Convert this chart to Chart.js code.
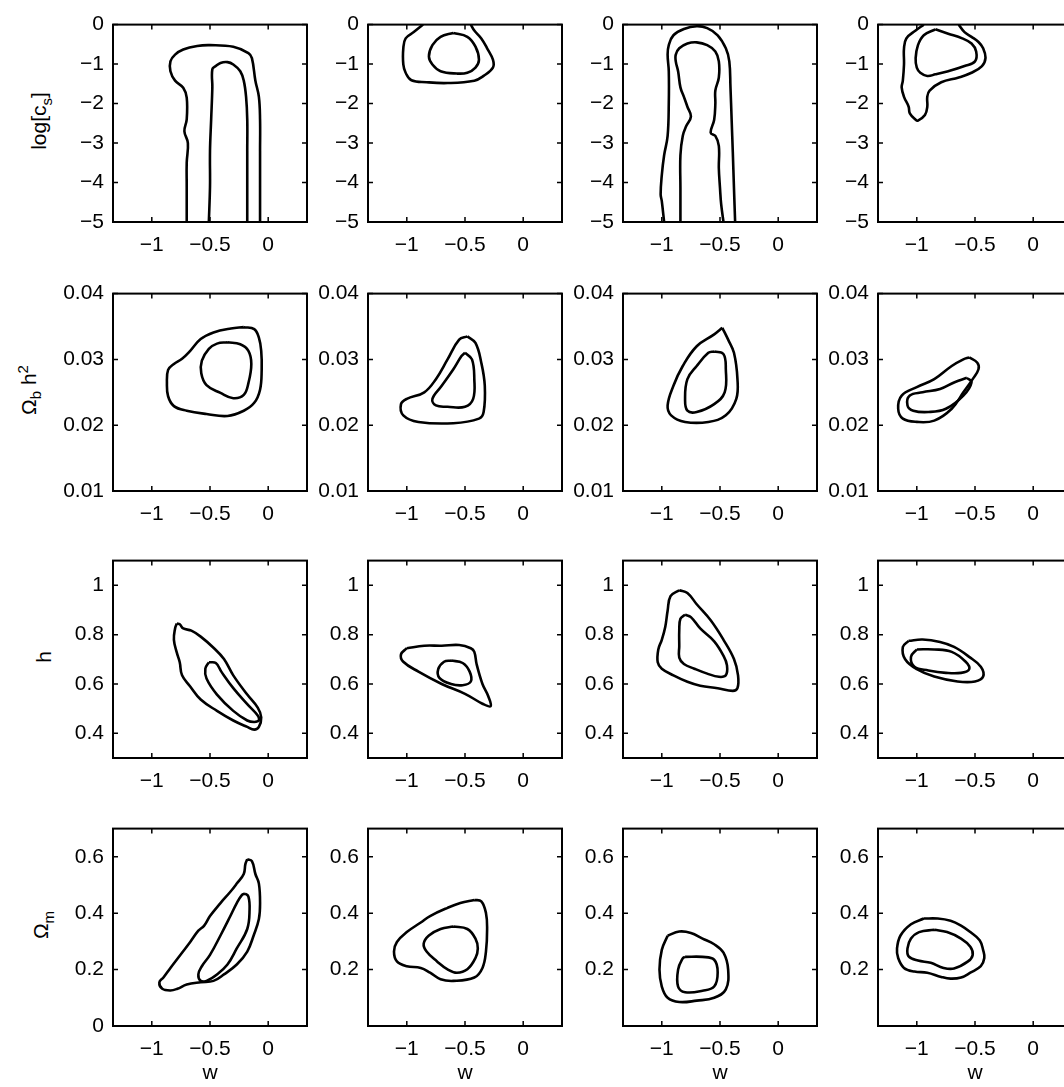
<!DOCTYPE html>
<html>
<head>
<meta charset="utf-8">
<script src="https://cdn.jsdelivr.net/npm/chart.js@4.4.1/dist/chart.umd.min.js"></script>
<style>
    html, body { margin: 0; padding: 0; background: #fff; overflow: hidden; width: 1064px; height: 1087px; }
    body { position: relative; font-family: "Liberation Sans", Arial, sans-serif; }
    canvas { position: absolute; }
    .ylab { position: absolute; font-size: 21px; line-height: 1; white-space: nowrap; color: #000;
            transform: translate(-50%, -50%) rotate(-90deg); }
    .ylab sub, .ylab sup { font-size: 15px; }
</style>
</head>
<body>
<script>
// x axis (w) is the same in every panel
var wMin = -4 / 3, wMax = 1 / 3;
var wTicks = [-1, -0.5, 0];

// y axes, one per row
var csTicks = [0, -1, -2, -3, -4, -5];
var obTicks = [0.01, 0.02, 0.03, 0.04];
var hTicks = [0.4, 0.6, 0.8, 1];
var omTicks = [0, 0.2, 0.4, 0.6];
var omTicksNoZero = [0.2, 0.4, 0.6];

// contours, [w, value] pairs. outer = 95%, inner = 68%
// row 1: log[c_s]
var cs1Outer = [[-0.70,-5],[-0.70,-4.1],[-0.70,-3.5],[-0.69,-3.0],[-0.72,-2.7],[-0.70,-2.4],[-0.70,-1.85],[-0.73,-1.6],[-0.80,-1.42],[-0.84,-1.18],[-0.84,-0.93],[-0.80,-0.76],[-0.73,-0.63],[-0.61,-0.54],[-0.50,-0.52],[-0.30,-0.56],[-0.17,-0.72],[-0.14,-0.85],[-0.11,-1.42],[-0.08,-1.83],[-0.07,-2.4],[-0.07,-3.2],[-0.07,-4.1],[-0.07,-5]];
var cs1Inner = [[-0.51,-5],[-0.50,-4.1],[-0.50,-3.2],[-0.49,-2.4],[-0.48,-1.6],[-0.48,-1.13],[-0.45,-1.05],[-0.41,-0.97],[-0.35,-0.95],[-0.30,-1.01],[-0.24,-1.18],[-0.21,-1.42],[-0.19,-1.83],[-0.18,-2.4],[-0.18,-3.2],[-0.18,-4.1],[-0.18,-5]];
var cs2Outer = [[-0.86,0],[-0.94,-0.19],[-1.01,-0.35],[-1.03,-0.6],[-1.03,-1.01],[-1.01,-1.22],[-0.96,-1.41],[-0.83,-1.46],[-0.65,-1.48],[-0.42,-1.42],[-0.34,-1.3],[-0.26,-1.09],[-0.26,-0.89],[-0.31,-0.6],[-0.36,-0.35],[-0.42,-0.15],[-0.45,0]];
var cs2Inner = [[-0.60,-0.21],[-0.48,-0.31],[-0.41,-0.56],[-0.38,-0.89],[-0.41,-1.09],[-0.48,-1.22],[-0.57,-1.24],[-0.71,-1.18],[-0.78,-1.01],[-0.81,-0.81],[-0.78,-0.52],[-0.71,-0.31],[-0.60,-0.21]];
var cs3Outer = [[-0.98,-5],[-1.0,-4.47],[-1.01,-4.3],[-1.0,-3.81],[-0.98,-3.31],[-0.95,-2.82],[-0.94,-2.0],[-0.94,-1.18],[-0.95,-0.76],[-0.94,-0.52],[-0.90,-0.27],[-0.81,-0.11],[-0.70,-0.04],[-0.61,-0.09],[-0.52,-0.27],[-0.45,-0.6],[-0.42,-0.93],[-0.41,-1.59],[-0.40,-2.41],[-0.39,-3.23],[-0.38,-4.14],[-0.37,-5]];
var cs3Inner = [[-0.84,-5],[-0.84,-4.14],[-0.84,-3.31],[-0.82,-2.82],[-0.79,-2.57],[-0.75,-2.33],[-0.78,-2.08],[-0.81,-1.83],[-0.84,-1.59],[-0.86,-1.18],[-0.88,-0.93],[-0.88,-0.76],[-0.85,-0.6],[-0.78,-0.48],[-0.70,-0.45],[-0.61,-0.52],[-0.54,-0.68],[-0.51,-0.93],[-0.51,-1.34],[-0.54,-1.67],[-0.54,-2.0],[-0.55,-2.41],[-0.58,-2.74],[-0.54,-2.82],[-0.51,-3.07],[-0.51,-3.64],[-0.50,-4.14],[-0.49,-4.55],[-0.47,-5]];
var cs4Outer = [[-0.94,0],[-1.01,-0.15],[-1.09,-0.35],[-1.11,-0.6],[-1.11,-1.01],[-1.12,-1.42],[-1.13,-1.59],[-1.11,-1.83],[-1.07,-2.08],[-1.06,-2.25],[-1.01,-2.41],[-0.99,-2.43],[-0.93,-2.29],[-0.91,-2.08],[-0.91,-1.83],[-0.89,-1.67],[-0.79,-1.46],[-0.64,-1.34],[-0.53,-1.22],[-0.44,-1.05],[-0.41,-0.85],[-0.43,-0.6],[-0.47,-0.44],[-0.53,-0.31],[-0.59,-0.19],[-0.64,0]];
var cs4Inner = [[-0.84,-0.12],[-0.73,-0.23],[-0.61,-0.35],[-0.53,-0.48],[-0.49,-0.68],[-0.50,-0.93],[-0.59,-1.05],[-0.73,-1.18],[-0.84,-1.26],[-0.91,-1.3],[-0.97,-1.22],[-1.0,-1.09],[-1.01,-0.85],[-0.99,-0.52],[-0.94,-0.27],[-0.84,-0.12]];

// row 2: Omega_b h^2
var ob1Outer = [[-0.21,0.0349],[-0.12,0.0346],[-0.08,0.0333],[-0.06,0.0313],[-0.056,0.0284],[-0.07,0.0254],[-0.12,0.0234],[-0.21,0.0222],[-0.35,0.0214],[-0.53,0.0217],[-0.70,0.0222],[-0.81,0.0229],[-0.86,0.0244],[-0.87,0.0264],[-0.86,0.0284],[-0.81,0.0293],[-0.74,0.0301],[-0.67,0.0313],[-0.58,0.0331],[-0.47,0.0341],[-0.32,0.0347],[-0.21,0.0349]];
var ob1Inner = [[-0.35,0.0326],[-0.24,0.0323],[-0.17,0.0313],[-0.145,0.0293],[-0.17,0.0264],[-0.21,0.0246],[-0.30,0.0241],[-0.41,0.0249],[-0.53,0.0261],[-0.575,0.0279],[-0.57,0.0298],[-0.51,0.0316],[-0.44,0.0324],[-0.35,0.0326]];
var ob2Outer = [[-0.48,0.0335],[-0.41,0.0325],[-0.36,0.0295],[-0.33,0.026],[-0.34,0.022],[-0.38,0.021],[-0.6,0.0203],[-0.9,0.0205],[-1.03,0.0215],[-1.05,0.0232],[-1.0,0.024],[-0.85,0.025],[-0.75,0.027],[-0.65,0.03],[-0.55,0.033],[-0.48,0.0335]];
var ob2Inner = [[-0.5,0.031],[-0.44,0.03],[-0.42,0.027],[-0.43,0.024],[-0.5,0.0228],[-0.65,0.0228],[-0.75,0.023],[-0.78,0.024],[-0.7,0.026],[-0.6,0.0285],[-0.53,0.0305],[-0.5,0.031]];
var ob3Outer = [[-0.48,0.0348],[-0.43,0.033],[-0.38,0.031],[-0.35,0.027],[-0.36,0.024],[-0.45,0.0215],[-0.6,0.0205],[-0.8,0.0205],[-0.92,0.0215],[-0.95,0.023],[-0.9,0.026],[-0.82,0.029],[-0.7,0.032],[-0.55,0.0338],[-0.48,0.0348]];
var ob3Inner = [[-0.55,0.0312],[-0.47,0.0308],[-0.45,0.0285],[-0.46,0.025],[-0.55,0.0232],[-0.7,0.022],[-0.78,0.0222],[-0.8,0.024],[-0.78,0.027],[-0.7,0.029],[-0.6,0.031],[-0.55,0.0312]];
var ob4Outer = [[-0.55,0.0303],[-0.48,0.0295],[-0.47,0.0285],[-0.52,0.027],[-0.6,0.025],[-0.7,0.0225],[-0.85,0.0207],[-1.0,0.0205],[-1.12,0.021],[-1.16,0.0225],[-1.13,0.0245],[-1.0,0.0258],[-0.85,0.027],[-0.7,0.029],[-0.6,0.030],[-0.55,0.0303]];
var ob4Inner = [[-0.57,0.0272],[-0.53,0.0265],[-0.6,0.0245],[-0.75,0.0225],[-0.9,0.022],[-1.03,0.0222],[-1.08,0.023],[-1.06,0.0245],[-0.95,0.025],[-0.8,0.0255],[-0.68,0.0265],[-0.57,0.0272]];

// row 3: h
var h1Outer = [[-0.785,0.845],[-0.76,0.842],[-0.73,0.825],[-0.66,0.816],[-0.58,0.792],[-0.47,0.747],[-0.38,0.701],[-0.30,0.635],[-0.18,0.557],[-0.09,0.504],[-0.06,0.465],[-0.08,0.426],[-0.12,0.415],[-0.18,0.426],[-0.30,0.452],[-0.44,0.491],[-0.58,0.537],[-0.67,0.590],[-0.74,0.635],[-0.76,0.688],[-0.785,0.727],[-0.81,0.779],[-0.80,0.825],[-0.785,0.845]];
var h1Inner = [[-0.51,0.688],[-0.45,0.685],[-0.40,0.648],[-0.30,0.583],[-0.18,0.518],[-0.09,0.472],[-0.08,0.452],[-0.12,0.446],[-0.18,0.452],[-0.30,0.491],[-0.44,0.557],[-0.53,0.622],[-0.54,0.662],[-0.51,0.688]];
var h2Outer = [[-1.0,0.745],[-0.85,0.755],[-0.7,0.755],[-0.55,0.758],[-0.45,0.745],[-0.42,0.73],[-0.4,0.68],[-0.35,0.6],[-0.3,0.55],[-0.28,0.51],[-0.35,0.52],[-0.5,0.56],[-0.7,0.6],[-0.9,0.65],[-1.03,0.69],[-1.05,0.72],[-1.0,0.745]];
var h2Inner = [[-0.62,0.695],[-0.52,0.685],[-0.46,0.65],[-0.45,0.61],[-0.52,0.595],[-0.62,0.6],[-0.72,0.625],[-0.73,0.66],[-0.68,0.69],[-0.62,0.695]];
var h3Outer = [[-0.85,0.98],[-0.78,0.969],[-0.70,0.923],[-0.58,0.858],[-0.47,0.779],[-0.38,0.701],[-0.345,0.635],[-0.35,0.583],[-0.39,0.572],[-0.52,0.583],[-0.67,0.593],[-0.78,0.609],[-0.90,0.635],[-1.0,0.662],[-1.035,0.688],[-1.03,0.74],[-1.0,0.779],[-0.97,0.832],[-0.95,0.897],[-0.925,0.956],[-0.85,0.98]];
var h3Inner = [[-0.80,0.881],[-0.75,0.871],[-0.67,0.825],[-0.55,0.773],[-0.47,0.714],[-0.44,0.675],[-0.45,0.635],[-0.51,0.629],[-0.61,0.642],[-0.72,0.662],[-0.81,0.681],[-0.85,0.707],[-0.85,0.753],[-0.85,0.819],[-0.84,0.864],[-0.80,0.881]];
var h4Outer = [[-1.07,0.775],[-0.95,0.78],[-0.8,0.77],[-0.68,0.75],[-0.55,0.71],[-0.45,0.67],[-0.43,0.63],[-0.5,0.61],[-0.65,0.61],[-0.85,0.63],[-1.0,0.66],[-1.1,0.7],[-1.12,0.75],[-1.07,0.775]];
var h4Inner = [[-1.0,0.74],[-0.85,0.74],[-0.7,0.73],[-0.58,0.69],[-0.55,0.66],[-0.62,0.645],[-0.75,0.645],[-0.9,0.655],[-1.02,0.67],[-1.05,0.71],[-1.0,0.74]];

// row 4: Omega_m
var om1Outer = [[-0.18,0.591],[-0.14,0.585],[-0.11,0.539],[-0.08,0.505],[-0.07,0.436],[-0.08,0.379],[-0.125,0.321],[-0.18,0.264],[-0.27,0.218],[-0.38,0.183],[-0.47,0.160],[-0.58,0.155],[-0.70,0.147],[-0.78,0.132],[-0.84,0.126],[-0.91,0.132],[-0.935,0.155],[-0.90,0.172],[-0.84,0.206],[-0.755,0.252],[-0.67,0.298],[-0.60,0.338],[-0.55,0.356],[-0.50,0.390],[-0.41,0.436],[-0.325,0.476],[-0.27,0.505],[-0.21,0.539],[-0.196,0.574],[-0.18,0.591]];
var om1Inner = [[-0.20,0.470],[-0.17,0.459],[-0.16,0.413],[-0.18,0.344],[-0.27,0.275],[-0.35,0.218],[-0.44,0.183],[-0.53,0.160],[-0.58,0.160],[-0.60,0.183],[-0.57,0.212],[-0.50,0.252],[-0.41,0.321],[-0.325,0.390],[-0.27,0.436],[-0.225,0.465],[-0.20,0.470]];
var om2Outer = [[-0.42,0.447],[-0.36,0.442],[-0.32,0.401],[-0.31,0.344],[-0.32,0.264],[-0.35,0.206],[-0.42,0.172],[-0.60,0.160],[-0.71,0.166],[-0.80,0.189],[-0.88,0.206],[-1.0,0.212],[-1.085,0.229],[-1.11,0.264],[-1.085,0.298],[-1.0,0.333],[-0.88,0.367],[-0.80,0.390],[-0.65,0.419],[-0.54,0.436],[-0.42,0.447]];
var om2Inner = [[-0.60,0.353],[-0.48,0.344],[-0.41,0.310],[-0.39,0.275],[-0.41,0.241],[-0.48,0.201],[-0.57,0.189],[-0.65,0.201],[-0.74,0.229],[-0.83,0.264],[-0.855,0.292],[-0.81,0.321],[-0.71,0.344],[-0.60,0.353]];
var om3Outer = [[-0.95,0.32],[-0.85,0.335],[-0.75,0.33],[-0.65,0.31],[-0.55,0.29],[-0.47,0.26],[-0.43,0.2],[-0.45,0.13],[-0.55,0.1],[-0.7,0.09],[-0.85,0.085],[-0.95,0.1],[-1.0,0.14],[-1.02,0.2],[-1.0,0.27],[-0.95,0.32]];
var om3Inner = [[-0.8,0.245],[-0.65,0.245],[-0.55,0.235],[-0.52,0.19],[-0.55,0.14],[-0.65,0.125],[-0.8,0.12],[-0.86,0.14],[-0.86,0.2],[-0.82,0.24],[-0.8,0.245]];
var om4Outer = [[-0.94,0.381],[-0.82,0.381],[-0.71,0.373],[-0.62,0.356],[-0.54,0.333],[-0.46,0.304],[-0.43,0.269],[-0.42,0.241],[-0.45,0.212],[-0.54,0.189],[-0.62,0.172],[-0.71,0.168],[-0.79,0.174],[-0.91,0.189],[-1.02,0.193],[-1.11,0.206],[-1.16,0.241],[-1.17,0.275],[-1.14,0.321],[-1.05,0.361],[-0.94,0.381]];
var om4Inner = [[-0.85,0.341],[-0.74,0.333],[-0.62,0.310],[-0.54,0.281],[-0.52,0.252],[-0.56,0.229],[-0.68,0.204],[-0.77,0.206],[-0.88,0.224],[-0.99,0.232],[-1.07,0.247],[-1.08,0.275],[-1.05,0.310],[-0.98,0.333],[-0.85,0.341]];

// panel layout (plot area boxes)
var colLeft = [113, 368, 623, 878];
var rowTop = [19, 288, 555, 823];
var PW = 194, PH = 203;
var AXW = 62, PADT = 16, PADR = 8;
var FONT = '"Liberation Sans", Arial, sans-serif';
var FSIZE = 21;

var rows = [
    { min: -5, max: 0, ticks: [csTicks, csTicks, csTicks, csTicks], label: 'log[c<sub>s</sub>]', labX: 41,
      panels: [[cs1Outer, cs1Inner], [cs2Outer, cs2Inner], [cs3Outer, cs3Inner], [cs4Outer, cs4Inner]] },
    { min: 0.01, max: 0.04, ticks: [obTicks, obTicks, obTicks, obTicks], label: '&Omega;<sub>b</sub> h<sup>2</sup>', labX: 29,
      panels: [[ob1Outer, ob1Inner], [ob2Outer, ob2Inner], [ob3Outer, ob3Inner], [ob4Outer, ob4Inner]] },
    { min: 0.3, max: 1.1, ticks: [hTicks, hTicks, hTicks, hTicks], label: 'h', labX: 43,
      panels: [[h1Outer, h1Inner], [h2Outer, h2Inner], [h3Outer, h3Inner], [h4Outer, h4Inner]] },
    { min: 0, max: 0.7, ticks: [omTicks, omTicksNoZero, omTicksNoZero, omTicksNoZero], label: '&Omega;<sub>m</sub>', labX: 43,
      panels: [[om1Outer, om1Inner], [om2Outer, om2Inner], [om3Outer, om3Inner], [om4Outer, om4Inner]] }
];

function fmt(v) {
    return String(v).replace('-', '\u2212');
}

// box round the plot and short inward ticks on all four sides
var frameTicks = {
    id: 'frameTicks',
    afterDraw(chart) {
        var ctx = chart.ctx, a = chart.chartArea;
        var x = chart.scales.x, y = chart.scales.y;
        ctx.save();
        ctx.strokeStyle = '#000';
        ctx.lineWidth = 1.5;
        ctx.beginPath();
        x.ticks.forEach(t => {
            var px = x.getPixelForValue(t.value);
            ctx.moveTo(px, a.bottom); ctx.lineTo(px, a.bottom - 5);
            ctx.moveTo(px, a.top); ctx.lineTo(px, a.top + 5);
        });
        y.ticks.forEach(t => {
            var py = y.getPixelForValue(t.value);
            ctx.moveTo(a.left, py); ctx.lineTo(a.left + 5, py);
            ctx.moveTo(a.right, py); ctx.lineTo(a.right - 5, py);
        });
        ctx.stroke();
        ctx.lineWidth = 2;
        ctx.strokeRect(a.left, a.top, a.right - a.left, a.bottom - a.top);
        ctx.restore();
    }
};

rows.forEach((row, r) => {
    var last = r === rows.length - 1;
    var axH = last ? 60 : 40;

    var lab = document.createElement('div');
    lab.className = 'ylab';
    lab.innerHTML = row.label;
    lab.style.left = row.labX + 'px';
    lab.style.top = (rowTop[r] + PH / 2) + 'px';
    document.body.appendChild(lab);

    row.panels.forEach((pair, c) => {
        var w = AXW + PW + PADR, h = PADT + PH + axH;
        var cv = document.createElement('canvas');
        cv.width = w;
        cv.height = h;
        cv.style.width = w + 'px';
        cv.style.height = h + 'px';
        cv.style.left = (colLeft[c] - AXW) + 'px';
        cv.style.top = (rowTop[r] - PADT) + 'px';
        document.body.appendChild(cv);

        var yTicks = row.ticks[c];
        new Chart(cv, {
            type: 'scatter',
            data: {
                datasets: pair.map(pts => ({
                    data: pts.map(p => ({ x: p[0], y: p[1] })),
                    showLine: true,
                    borderColor: '#000',
                    borderWidth: 2.6,
                    pointRadius: 0,
                    tension: 0.4,
                    fill: false
                }))
            },
            options: {
                responsive: false,
                animation: false,
                devicePixelRatio: 1,
                layout: { padding: { top: PADT, right: PADR, left: 0, bottom: 0 } },
                elements: { line: { capBezierPoints: false } },
                plugins: { legend: { display: false }, tooltip: { enabled: false } },
                scales: {
                    x: {
                        type: 'linear', min: wMin, max: wMax,
                        grid: { display: false, drawTicks: false }, border: { display: false },
                        afterBuildTicks: s => { s.ticks = wTicks.map(v => ({ value: v })); },
                        afterFit: s => { s.height = axH; },
                        ticks: { padding: 11, color: '#000', autoSkip: false, maxRotation: 0,
                                 font: { family: FONT, size: FSIZE }, callback: fmt },
                        title: { display: last, text: 'w', color: '#000', padding: { top: 0, bottom: 0 },
                                 font: { family: FONT, size: FSIZE } }
                    },
                    y: {
                        type: 'linear', min: row.min, max: row.max,
                        grid: { display: false, drawTicks: false }, border: { display: false },
                        afterBuildTicks: s => { s.ticks = yTicks.map(v => ({ value: v })); },
                        afterFit: s => { s.width = AXW; },
                        ticks: { padding: 9, color: '#000', autoSkip: false,
                                 font: { family: FONT, size: FSIZE }, callback: fmt }
                    }
                }
            },
            plugins: [frameTicks]
        });
    });
});
</script>
</body>
</html>
